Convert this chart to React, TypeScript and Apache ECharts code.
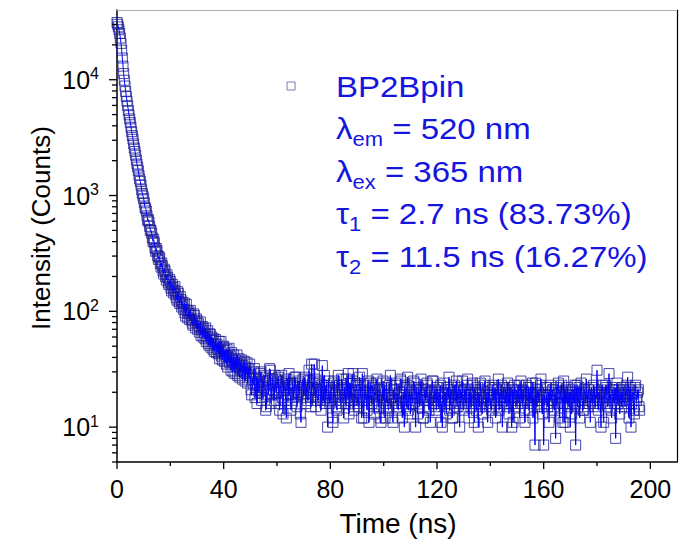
import React, { useEffect, useRef } from "react";
import * as echarts from "echarts";

// ---- data ----
const CHANNEL_NS = 0.25; // time per channel
// counts for t = 0 ... 49.75 ns
const DECAY_COUNTS = [
  31200, 30100, 28600, 27000, 25100, 22900, 20600, 18000, 15400, 13100,
  11300, 9900, 8820, 7900, 7150, 6520, 5970, 5430, 4980, 4590,
  4260, 3880, 3560, 3290, 3060, 2790, 2570, 2400, 2230, 2030,
  1870, 1760, 1640, 1500, 1390, 1320, 1230, 1120, 1040, 990,
  940, 865, 790, 772, 735, 668, 610, 622, 590, 541,
  498, 503, 472, 431, 401, 418, 392, 352, 330, 349,
  334, 302, 281, 297, 289, 258, 241, 262, 248, 222,
  210, 231, 224, 199, 186, 207, 196, 176, 170, 188,
  181, 158, 150, 171, 160, 144, 152, 163, 139, 131,
  125, 148, 143, 121, 117, 134, 126, 109, 120, 113,
  104, 118, 97, 91, 115, 102, 88, 96, 99, 85,
  102, 93, 84, 79, 76, 95, 92, 81, 72, 86,
  83, 70, 79, 74, 66, 81, 62, 69, 74, 60,
  71, 65, 58, 72, 55, 61, 68, 53, 51, 64,
  63, 49, 60, 56, 47, 58, 45, 52, 57, 44,
  52, 48, 43, 55, 39, 46, 55, 41, 38, 49,
  50, 37, 46, 42, 35, 47, 33, 40, 48, 36,
  41, 31, 44, 38, 30, 42, 36, 29, 38, 33,
  42, 28, 35, 39, 27, 36, 31, 38, 26, 34,
  30, 37, 25, 33, 29, 36, 24, 32, 27, 35,
];
// counts for t = 50 ... 196 ns
const TAIL_COUNTS = [
  28, 21, 19, 26, 24, 30, 32, 18, 21, 27, 16, 23, 26, 20, 23, 29, 30, 17, 18, 25,
  22, 28, 27, 14, 15, 24, 25, 19, 21, 32, 31, 16, 19, 26, 24, 21, 17, 28, 26, 20,
  20, 25, 27, 16, 14, 22, 23, 28, 18, 13, 25, 21, 22, 17, 12, 26, 24, 19, 29, 23,
  19, 14, 16, 24, 23, 18, 21, 27, 27, 20, 15, 19, 20, 25, 24, 13, 11, 21, 22, 26,
  19, 23, 27, 16, 22, 18, 17, 25, 31, 21, 20, 15, 35, 22, 24, 19, 35, 26, 15, 21,
  21, 17, 18, 24, 25, 20, 14, 23, 34, 17, 19, 28, 16, 22, 23, 18, 10, 25, 20, 16,
  17, 21, 22, 12, 11, 24, 25, 18, 19, 15, 14, 23, 28, 21, 20, 17, 16, 26, 23, 19,
  12, 22, 21, 16, 26, 18, 18, 29, 13, 20, 24, 17, 17, 25, 29, 14, 15, 21, 20, 23,
  21, 16, 15, 23, 27, 19, 18, 12, 29, 21, 12, 17, 23, 20, 17, 14, 20, 25, 11, 18,
  24, 19, 16, 23, 22, 15, 13, 20, 19, 24, 26, 17, 15, 21, 21, 12, 11, 19, 18, 25,
  17, 22, 12, 16, 24, 19, 19, 14, 15, 23, 28, 18, 18, 12, 11, 21, 21, 17, 16, 24,
  23, 15, 14, 19, 20, 26, 25, 16, 12, 20, 18, 10, 22, 17, 15, 23, 27, 14, 17, 21,
  13, 19, 20, 16, 16, 25, 24, 18, 10, 21, 19, 13, 22, 18, 15, 21, 26, 20, 18, 12,
  12, 19, 21, 17, 17, 24, 23, 15, 14, 20, 11, 18, 20, 25, 25, 16, 16, 21, 19, 14,
  22, 17, 15, 20, 18, 23, 11, 16, 10, 19, 24, 15, 17, 20, 13, 22, 21, 18, 27, 14,
  16, 21, 19, 12, 12, 20, 23, 17, 18, 25, 15, 19, 22, 16, 10, 21, 20, 18, 25, 15,
  14, 19, 21, 16, 18, 23, 26, 17, 12, 20, 19, 15, 16, 24, 23, 18, 11, 21, 20, 14,
  17, 22, 10, 19, 15, 24, 21, 16, 13, 18, 18, 23, 25, 15, 16, 20, 11, 17, 22, 19,
  19, 15, 14, 21, 23, 18, 17, 22, 12, 16, 21, 19, 26, 14, 15, 20, 18, 23, 10, 17,
  22, 18, 16, 21, 20, 15, 24, 19, 13, 22, 19, 16, 10, 21, 11, 18, 23, 17, 15, 20,
  21, 16, 18, 23, 12, 20, 25, 17, 16, 21, 20, 14, 11, 19, 23, 18, 17, 22, 14, 20,
  22, 16, 19, 24, 12, 18, 15, 7, 24, 19, 15, 21, 20, 17, 17, 23, 26, 15, 13, 19,
  7, 18, 19, 22, 22, 16, 15, 20, 11, 19, 23, 17, 17, 21, 21, 15, 14, 19, 8, 22,
  18, 16, 24, 20, 12, 18, 20, 23, 16, 11, 25, 19, 11, 21, 19, 16, 22, 18, 15, 20,
  10, 20, 13, 17, 21, 18, 16, 23, 7, 19, 23, 15, 19, 22, 12, 18, 24, 20, 17, 14,
  14, 21, 20, 16, 26, 19, 15, 21, 18, 16, 11, 20, 22, 17, 16, 23, 21, 15, 19, 18,
  31, 17, 14, 20, 20, 16, 10, 21, 23, 18, 11, 19, 18, 23, 22, 16, 15, 20, 29, 18,
  19, 14, 12, 21, 21, 17, 16, 22, 8, 19, 24, 16, 18, 21, 13, 19, 20, 15, 17, 22,
  21, 17, 15, 20, 19, 23, 27, 16, 12, 21, 22, 10, 16, 19, 20, 14, 13, 22, 23, 17,
  18, 20, 21, 15, 14,
];

const X_MIN = 0;
const X_MAX = 210;
const Y_MIN = 5;
const Y_MAX = 40000;
const X_MAJOR_TICKS = [0, 40, 80, 120, 160, 200];
const X_MINOR_TICKS = [20, 60, 100, 140, 180];
const Y_MAJOR_TICKS = [10, 100, 1000, 10000];
const Y_MINOR_TICKS = [
  5, 6, 7, 8, 9,
  20, 30, 40, 50, 60, 70, 80, 90,
  200, 300, 400, 500, 600, 700, 800, 900,
  2000, 3000, 4000, 5000, 6000, 7000, 8000, 9000,
  20000, 30000,
];

const X_TITLE = "Time (ns)";
const Y_TITLE = "Intensity (Counts)";
const LEGEND_LINES = [
  "{m|BP2Bpin}",
  "{m|λ}{s|em}{m| = 520 nm}",
  "{m|λ}{s|ex}{m| = 365 nm}",
  "{m|τ}{s|1}{m| = 2.7 ns (83.73%)}",
  "{m|τ}{s|2}{m| = 11.5 ns (16.27%)}",
];

const FONT = 'Arial, "Liberation Sans", sans-serif';
const TEXT_BLUE = "#1515e0";

export default function App() {
  const ref = useRef<HTMLDivElement>(null);

  useEffect(() => {
    if (!ref.current) return;
    const chart = echarts.init(ref.current, null, { renderer: "svg" });

    const counts = [...DECAY_COUNTS, ...TAIL_COUNTS];
    const points = counts.map((c, i) => [i * CHANNEL_NS, c]);

    const xTickData = [
      ...X_MAJOR_TICKS.map((v) => [v, Y_MIN, 1]),
      ...X_MINOR_TICKS.map((v) => [v, Y_MIN, 0]),
    ];
    const yTickData = [
      ...Y_MAJOR_TICKS.map((v) => [X_MIN, v, 1]),
      ...Y_MINOR_TICKS.map((v) => [X_MIN, v, 0]),
    ];

    const legendMidY = [86.5, 129, 171.5, 214, 256.5];

    const option: any = {
      animation: false,
      backgroundColor: "#fff",
      grid: { left: 117, right: 1, top: 10, bottom: 81, containLabel: false },
      xAxis: [
        {
          type: "value",
          min: X_MIN,
          max: X_MAX,
          interval: 40,
          position: "bottom",
          axisLine: { show: true, onZero: false, lineStyle: { color: "#000", width: 1.5 } },
          axisTick: { show: false },
          minorTick: { show: false },
          splitLine: { show: false },
          axisLabel: {
            color: "#000",
            fontSize: 25,
            fontFamily: FONT,
            margin: 14,
            formatter: (v: number) => (v % 40 === 0 ? String(v) : ""),
          },
        },
        {
          type: "value",
          min: X_MIN,
          max: X_MAX,
          position: "top",
          axisLine: { show: true, onZero: false, lineStyle: { color: "#999", width: 1, type: "dotted" } },
          axisTick: { show: false },
          axisLabel: { show: false },
          splitLine: { show: false },
        },
      ],
      yAxis: [
        {
          type: "log",
          logBase: 10,
          min: Y_MIN,
          max: Y_MAX,
          position: "left",
          axisLine: { show: true, onZero: false, lineStyle: { color: "#000", width: 1.5 } },
          axisTick: { show: false },
          minorTick: { show: false },
          splitLine: { show: false },
          axisLabel: {
            margin: 18,
            formatter: (v: number) => {
              const l = Math.log10(v);
              const e = Math.round(l);
              if (Math.abs(l - e) > 1e-6) return "";
              return `{b|10}{s|${e}}`;
            },
            rich: {
              b: { fontSize: 25, fontFamily: FONT, color: "#000" },
              s: { fontSize: 16, fontFamily: FONT, color: "#000", padding: [0, 0, 12, 0] },
            },
          },
        },
        {
          type: "log",
          logBase: 10,
          min: Y_MIN,
          max: Y_MAX,
          position: "right",
          axisLine: { show: true, onZero: false, lineStyle: { color: "#000", width: 1.2 } },
          axisTick: { show: false },
          axisLabel: { show: false },
          splitLine: { show: false },
        },
      ],
      series: [
        {
          type: "scatter",
          name: "BP2Bpin",
          data: points,
          symbol: "rect",
          symbolSize: 10,
          itemStyle: { color: "rgba(0,0,0,0)", borderColor: "#1c1c98", borderWidth: 1 },
          z: 2,
          silent: true,
        },
        {
          type: "line",
          data: points,
          showSymbol: false,
          symbol: "none",
          lineStyle: { color: "#0000ff", width: 1 },
          z: 3,
          silent: true,
        },
        {
          type: "custom",
          coordinateSystem: "cartesian2d",
          clip: false,
          silent: true,
          z: 5,
          data: xTickData,
          renderItem: (_p: any, api: any) => {
            const pt = api.coord([api.value(0), api.value(1)]);
            const len = api.value(2) ? 7 : 4;
            return {
              type: "line",
              shape: { x1: pt[0], y1: pt[1], x2: pt[0], y2: pt[1] + len },
              style: { stroke: "#000", lineWidth: 1.3 },
            };
          },
        },
        {
          type: "custom",
          coordinateSystem: "cartesian2d",
          clip: false,
          silent: true,
          z: 5,
          data: yTickData,
          renderItem: (_p: any, api: any) => {
            const pt = api.coord([api.value(0), api.value(1)]);
            const len = api.value(2) ? 8 : 5;
            return {
              type: "line",
              shape: { x1: pt[0] - len, y1: pt[1], x2: pt[0], y2: pt[1] },
              style: { stroke: "#000", lineWidth: 1.3 },
            };
          },
        },
      ],
      graphic: [
        {
          type: "text",
          x: 398,
          y: 523,
          style: {
            text: X_TITLE,
            fontSize: 28,
            fontFamily: FONT,
            fill: "#000",
            align: "center",
            verticalAlign: "middle",
            textAlign: "center",
            textVerticalAlign: "middle",
          },
        },
        {
          type: "text",
          x: 41,
          y: 228,
          rotation: Math.PI / 2,
          style: {
            text: Y_TITLE,
            fontSize: 26,
            fontFamily: FONT,
            fill: "#000",
            align: "center",
            verticalAlign: "middle",
            textAlign: "center",
            textVerticalAlign: "middle",
          },
        },
        {
          type: "rect",
          shape: { x: 287, y: 82, width: 8, height: 8 },
          style: { fill: "none", stroke: "#7a7ab4", lineWidth: 1 },
        },
        ...LEGEND_LINES.map((t, i) => ({
          type: "text",
          x: 336,
          y: legendMidY[i],
          scaleX: 1.1,
          style: {
            text: t,
            align: "left",
            verticalAlign: "middle",
            textAlign: "left",
            textVerticalAlign: "middle",
            rich: {
              m: { fontSize: 30, fontFamily: FONT, fill: TEXT_BLUE, color: TEXT_BLUE },
              s: { fontSize: 20, fontFamily: FONT, fill: TEXT_BLUE, color: TEXT_BLUE, padding: [20, 0, 0, 0] },
            },
          },
        })),
      ],
    };

    chart.setOption(option);
    return () => chart.dispose();
  }, []);

  return (
    <div
      ref={ref}
      style={{ position: "absolute", left: 0, top: 0, width: 680, height: 543, background: "#fff" }}
    />
  );
}
